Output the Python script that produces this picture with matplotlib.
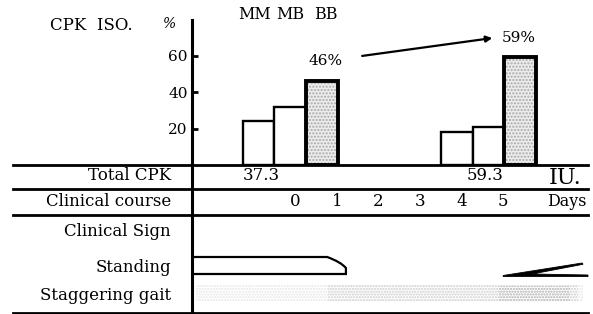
import numpy as np
import matplotlib
matplotlib.use("Agg")
import matplotlib.pyplot as plt
from matplotlib.patches import Polygon, Rectangle, PathPatch
from matplotlib.path import Path

plt.rcParams['font.family'] = ['DejaVu Serif']

# Datos: isoenzimas CPK (%) en dos muestreos
isoenzimas = ["MM", "MB", "BB"]
iso_dia0 = [24, 32, 46]
iso_dia5 = [18, 21, 59]
total_cpk = ["37.3", "59.3"]
dias = [0, 1, 2, 3, 4, 5]
filas = ["Total CPK", "Clinical course", "Clinical Sign", "Standing", "Staggering gait"]
yticks = [20, 40, 60]

W, H = 593, 314
fig = plt.figure(figsize=(W / 100, H / 100), dpi=100)

# Eje de fondo en pixeles para la tabla
bg = fig.add_axes([0, 0, 1, 1])
bg.set_xlim(0, W)
bg.set_ylim(H, 0)
bg.axis('off')

x0, x1 = 192, 588
d_left, d_right = -2.48, 7.04  # escala de dias

# Grafico de barras
ax = fig.add_axes([x0 / W, (H - 165) / H, (x1 - x0) / W, (165 - 20) / H])
ax.set_xlim(d_left, d_right)
ax.set_ylim(0, 79.5)
ax.patch.set_alpha(0)
for s in ['top', 'right', 'bottom']:
    ax.spines[s].set_visible(False)
ax.spines['left'].set_linewidth(2.2)
ax.set_xticks([])
ax.set_yticks(yticks)
ax.tick_params(axis='y', direction='in', length=4, width=2, labelsize=11, pad=3)

ancho = 0.76
centros = [-0.12, 4.65]
offs = np.array([-1, 0, 1]) * ancho
for c, vals in zip(centros, [iso_dia0, iso_dia5]):
    for k, v in enumerate(vals):
        bb = isoenzimas[k] == "BB"
        if bb:
            # punteado gris del BB
            ax.bar(c + offs[k], v, width=ancho, facecolor='#ececec',
                   edgecolor='none', zorder=2)
            ax.bar(c + offs[k], v, width=ancho, facecolor='none',
                   edgecolor='#a8a8a8', linewidth=0, hatch='.....', zorder=2)
        ax.bar(c + offs[k], v, width=ancho, facecolor='none' if bb else 'white',
               edgecolor='black', linewidth=2.8 if bb else 1.7, zorder=3)

# Etiquetas MM MB BB sobre el primer grupo
for k, nombre in enumerate(isoenzimas):
    ax.text(centros[0] + offs[k] - 0.1 * (1 - k), 1.035, nombre,
            transform=ax.get_xaxis_transform(), ha='center', va='center',
            fontsize=11.5)

ax.text(centros[0] + offs[2] + 0.1, iso_dia0[2] + 11, f"{iso_dia0[2]}%",
        ha='center', va='center', fontsize=11)
ax.text(centros[1] + offs[2] - 0.03, iso_dia5[2] + 10.6, f"{iso_dia5[2]}%",
        ha='center', va='center', fontsize=11)
ax.annotate("", xy=(4.74, 69.6), xytext=(1.61, 59.8),
            arrowprops=dict(arrowstyle='-|>', color='black', lw=1.6,
                            mutation_scale=9, shrinkA=0, shrinkB=0))

# Textos superiores
bg.text(50, 25, "CPK  ISO.", ha='left', va='center', fontsize=12)
bg.text(170, 24, "%", ha='center', va='center', fontsize=10, style='italic')

# Lineas de la tabla
bg.plot([x0, x0], [165, 313], color='black', lw=2.2)
for y in [165, 189, 215, 313]:
    bg.plot([13, x1], [y, y], color='black', lw=2)

# Etiquetas de filas
fila_y = [176, 202, 232, 267, 296]
for t, y in zip(filas, fila_y):
    bg.text(171, y, t, ha='right', va='center', fontsize=12)

# Eje inferior en dias
lo = fig.add_axes([x0 / W, 0, (x1 - x0) / W, (H - 165) / H])
lo.set_xlim(d_left, d_right)
lo.set_ylim(H, 165)
lo.axis('off')
lo.patch.set_alpha(0)

for xt, t in zip([-0.82, 4.57], total_cpk):
    lo.text(xt, 176, t, ha='center', va='center', fontsize=12)
lo.text(6.5, 178, "IU.", ha='center', va='center', fontsize=16)
for d in dias:
    lo.text(d, 202, str(d), ha='center', va='center', fontsize=12)
lo.text(6.52, 202, "Days", ha='center', va='center', fontsize=11.5)

# Standing: barra con extremo redondeado y cuña final
verts = [(d_left, 257), (0.77, 257), (1.1, 262), (1.22, 268), (1.22, 274), (d_left, 274)]
codes = [Path.MOVETO, Path.LINETO, Path.CURVE3, Path.CURVE3, Path.LINETO, Path.LINETO]
lo.add_patch(PathPatch(Path(verts, codes), facecolor='none', edgecolor='black',
                       lw=1.6, clip_on=False))
lo.add_patch(Polygon([(5.0, 275.5), (6.9, 263), (6.92, 264.3), (5.7, 274),
                      (7.04, 275), (7.04, 276.5), (5.0, 276.5)],
                     closed=True, facecolor='black', edgecolor='black', lw=0.6,
                     clip_on=False))

# Staggering gait: banda punteada tenue
lo.add_patch(Rectangle((d_left + 0.1, 285), 9.3, 17, facecolor='none',
                       edgecolor='#e6e6e6', hatch='......', lw=0))
lo.add_patch(Rectangle((0.8, 285), 6.0, 17, facecolor='none',
                       edgecolor='#d6d6d6', hatch='......', lw=0))
lo.add_patch(Rectangle((4.9, 286), 1.7, 15, facecolor='none',
                       edgecolor='#c2c2c2', hatch='......', lw=0))

fig.savefig("out.png", dpi=100)
